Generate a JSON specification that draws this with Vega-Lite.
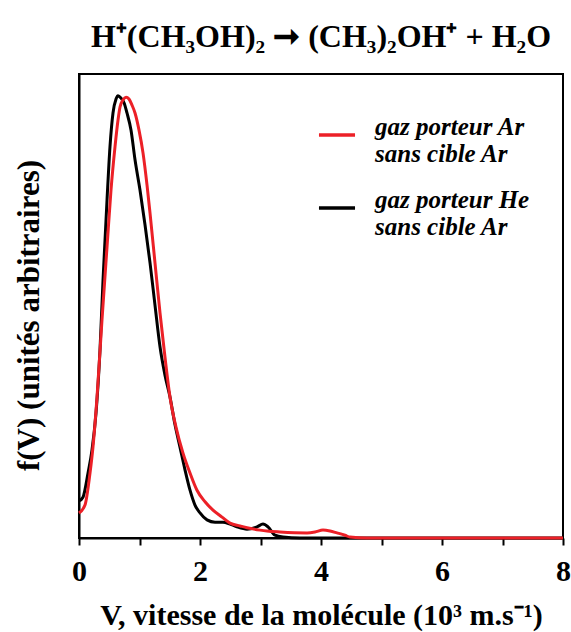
{
  "$schema": "https://vega.github.io/schema/vega-lite/v6.json",
  "width": 484,
  "height": 464,
  "autosize": {"type": "none"},
  "padding": {"left": 79, "top": 74, "right": 8, "bottom": 94},
  "background": "white",
  "title": {
    "text": "H⁺(CH₃OH)₂ ➞ (CH₃)₂OH⁺ + H₂O",
    "font": "Times New Roman",
    "fontSize": 32,
    "fontWeight": "bold",
    "color": "black",
    "anchor": "middle",
    "offset": 20
  },
  "datasets": {
    "he": [
      {"v": 0.0, "f": 8.0, "s": "gaz porteur He"},
      {"v": 0.066, "f": 8.8, "s": "gaz porteur He"},
      {"v": 0.149, "f": 14.0, "s": "gaz porteur He"},
      {"v": 0.215, "f": 19.0, "s": "gaz porteur He"},
      {"v": 0.281, "f": 26.9, "s": "gaz porteur He"},
      {"v": 0.347, "f": 40.5, "s": "gaz porteur He"},
      {"v": 0.397, "f": 55.6, "s": "gaz porteur He"},
      {"v": 0.463, "f": 72.8, "s": "gaz porteur He"},
      {"v": 0.512, "f": 84.3, "s": "gaz porteur He"},
      {"v": 0.562, "f": 91.6, "s": "gaz porteur He"},
      {"v": 0.612, "f": 94.6, "s": "gaz porteur He"},
      {"v": 0.645, "f": 95.3, "s": "gaz porteur He"},
      {"v": 0.694, "f": 94.8, "s": "gaz porteur He"},
      {"v": 0.744, "f": 93.8, "s": "gaz porteur He"},
      {"v": 0.793, "f": 91.6, "s": "gaz porteur He"},
      {"v": 0.86, "f": 87.9, "s": "gaz porteur He"},
      {"v": 0.926, "f": 81.5, "s": "gaz porteur He"},
      {"v": 1.008, "f": 75.0, "s": "gaz porteur He"},
      {"v": 1.091, "f": 67.5, "s": "gaz porteur He"},
      {"v": 1.174, "f": 59.3, "s": "gaz porteur He"},
      {"v": 1.256, "f": 50.2, "s": "gaz porteur He"},
      {"v": 1.339, "f": 41.2, "s": "gaz porteur He"},
      {"v": 1.421, "f": 35.1, "s": "gaz porteur He"},
      {"v": 1.504, "f": 30.4, "s": "gaz porteur He"},
      {"v": 1.587, "f": 24.4, "s": "gaz porteur He"},
      {"v": 1.669, "f": 19.6, "s": "gaz porteur He"},
      {"v": 1.752, "f": 14.7, "s": "gaz porteur He"},
      {"v": 1.835, "f": 10.3, "s": "gaz porteur He"},
      {"v": 1.917, "f": 7.1, "s": "gaz porteur He"},
      {"v": 2.0, "f": 5.4, "s": "gaz porteur He"},
      {"v": 2.116, "f": 3.9, "s": "gaz porteur He"},
      {"v": 2.248, "f": 3.4, "s": "gaz porteur He"},
      {"v": 2.38, "f": 3.4, "s": "gaz porteur He"},
      {"v": 2.496, "f": 3.0, "s": "gaz porteur He"},
      {"v": 2.612, "f": 2.4, "s": "gaz porteur He"},
      {"v": 2.777, "f": 1.9, "s": "gaz porteur He"},
      {"v": 2.942, "f": 2.4, "s": "gaz porteur He"},
      {"v": 3.041, "f": 3.0, "s": "gaz porteur He"},
      {"v": 3.124, "f": 2.4, "s": "gaz porteur He"},
      {"v": 3.24, "f": 0.6, "s": "gaz porteur He"},
      {"v": 3.372, "f": 0.2, "s": "gaz porteur He"},
      {"v": 3.653, "f": 0.0, "s": "gaz porteur He"},
      {"v": 5.0, "f": 0.0, "s": "gaz porteur He"},
      {"v": 8.0, "f": 0.0, "s": "gaz porteur He"}
    ],
    "ar": [
      {"v": 0.0, "f": 5.4, "s": "gaz porteur Ar"},
      {"v": 0.099, "f": 7.1, "s": "gaz porteur Ar"},
      {"v": 0.182, "f": 14.0, "s": "gaz porteur Ar"},
      {"v": 0.231, "f": 19.6, "s": "gaz porteur Ar"},
      {"v": 0.298, "f": 30.4, "s": "gaz porteur Ar"},
      {"v": 0.38, "f": 47.0, "s": "gaz porteur Ar"},
      {"v": 0.463, "f": 62.7, "s": "gaz porteur Ar"},
      {"v": 0.529, "f": 75.0, "s": "gaz porteur Ar"},
      {"v": 0.595, "f": 84.3, "s": "gaz porteur Ar"},
      {"v": 0.645, "f": 90.1, "s": "gaz porteur Ar"},
      {"v": 0.678, "f": 92.9, "s": "gaz porteur Ar"},
      {"v": 0.727, "f": 94.4, "s": "gaz porteur Ar"},
      {"v": 0.777, "f": 95.0, "s": "gaz porteur Ar"},
      {"v": 0.826, "f": 94.6, "s": "gaz porteur Ar"},
      {"v": 0.876, "f": 93.3, "s": "gaz porteur Ar"},
      {"v": 0.926, "f": 91.6, "s": "gaz porteur Ar"},
      {"v": 0.992, "f": 87.9, "s": "gaz porteur Ar"},
      {"v": 1.058, "f": 83.0, "s": "gaz porteur Ar"},
      {"v": 1.124, "f": 76.1, "s": "gaz porteur Ar"},
      {"v": 1.174, "f": 70.0, "s": "gaz porteur Ar"},
      {"v": 1.256, "f": 59.3, "s": "gaz porteur Ar"},
      {"v": 1.339, "f": 48.5, "s": "gaz porteur Ar"},
      {"v": 1.421, "f": 39.0, "s": "gaz porteur Ar"},
      {"v": 1.504, "f": 30.4, "s": "gaz porteur Ar"},
      {"v": 1.603, "f": 23.9, "s": "gaz porteur Ar"},
      {"v": 1.719, "f": 18.3, "s": "gaz porteur Ar"},
      {"v": 1.835, "f": 14.0, "s": "gaz porteur Ar"},
      {"v": 1.95, "f": 10.3, "s": "gaz porteur Ar"},
      {"v": 2.083, "f": 7.8, "s": "gaz porteur Ar"},
      {"v": 2.215, "f": 6.0, "s": "gaz porteur Ar"},
      {"v": 2.364, "f": 4.5, "s": "gaz porteur Ar"},
      {"v": 2.496, "f": 3.2, "s": "gaz porteur Ar"},
      {"v": 2.661, "f": 2.6, "s": "gaz porteur Ar"},
      {"v": 2.777, "f": 2.2, "s": "gaz porteur Ar"},
      {"v": 2.992, "f": 1.7, "s": "gaz porteur Ar"},
      {"v": 3.107, "f": 1.5, "s": "gaz porteur Ar"},
      {"v": 3.322, "f": 1.3, "s": "gaz porteur Ar"},
      {"v": 3.769, "f": 1.1, "s": "gaz porteur Ar"},
      {"v": 3.901, "f": 1.3, "s": "gaz porteur Ar"},
      {"v": 4.033, "f": 1.7, "s": "gaz porteur Ar"},
      {"v": 4.149, "f": 1.5, "s": "gaz porteur Ar"},
      {"v": 4.264, "f": 1.1, "s": "gaz porteur Ar"},
      {"v": 4.397, "f": 0.6, "s": "gaz porteur Ar"},
      {"v": 4.479, "f": 0.2, "s": "gaz porteur Ar"},
      {"v": 4.76, "f": 0.0, "s": "gaz porteur Ar"},
      {"v": 6.0, "f": 0.0, "s": "gaz porteur Ar"},
      {"v": 8.0, "f": 0.0, "s": "gaz porteur Ar"}
    ]
  },
  "encoding": {
    "x": {
      "field": "v",
      "type": "quantitative",
      "scale": {"domain": [0, 8], "nice": false, "zero": false},
      "axis": {
        "title": "V, vitesse de la molécule (10³ m.s⁻¹)",
        "values": [0, 1, 2, 3, 4, 5, 6, 7, 8],
        "labelExpr": "datum.value % 2 == 0 ? datum.label : ''",
        "grid": false,
        "domainColor": "black",
        "domainWidth": 2,
        "tickColor": "black",
        "tickWidth": 2,
        "tickSize": 7,
        "labelFont": "Times New Roman",
        "labelFontSize": 30,
        "labelFontWeight": "bold",
        "labelColor": "black",
        "labelPadding": 11,
        "labelFlush": false,
        "titleFont": "Times New Roman",
        "titleFontSize": 30,
        "titleFontWeight": "bold",
        "titleColor": "black",
        "titlePadding": 14
      }
    },
    "y": {
      "field": "f",
      "type": "quantitative",
      "scale": {"domain": [0, 100], "nice": false},
      "axis": {
        "title": "f(V) (unités arbitraires)",
        "labels": false,
        "ticks": false,
        "grid": false,
        "domainColor": "black",
        "domainWidth": 2,
        "titleFont": "Times New Roman",
        "titleFontSize": 31,
        "titleFontWeight": "bold",
        "titleColor": "black",
        "titlePadding": 34,
        "titleY": 241
      }
    },
    "color": {
      "field": "s",
      "type": "nominal",
      "scale": {"domain": ["gaz porteur Ar", "gaz porteur He"], "range": ["#ec2027", "#000000"]},
      "legend": {
        "title": null,
        "orient": "none",
        "legendX": 238,
        "legendY": 41,
        "padding": 0,
        "symbolType": "stroke",
        "symbolSize": 1300,
        "symbolStrokeWidth": 3.5,
        "rowPadding": 21,
        "labelOffset": 18,
        "labelBaseline": "alphabetic",
        "labelExpr": "[datum.label, 'sans cible Ar']",
        "labelFont": "Times New Roman",
        "labelFontSize": 25,
        "labelFontWeight": "bold",
        "labelFontStyle": "italic",
        "labelColor": "black",
        "labelLimit": 300
      }
    }
  },
  "layer": [
    {"data": {"name": "he"}, "mark": {"type": "line", "strokeWidth": 3, "interpolate": "monotone"}},
    {"data": {"name": "ar"}, "mark": {"type": "line", "strokeWidth": 3, "interpolate": "monotone"}}
  ],
  "config": {
    "view": {"stroke": "black", "strokeWidth": 2},
    "style": {"guide-label": {"lineHeight": 27}}
  }
}
